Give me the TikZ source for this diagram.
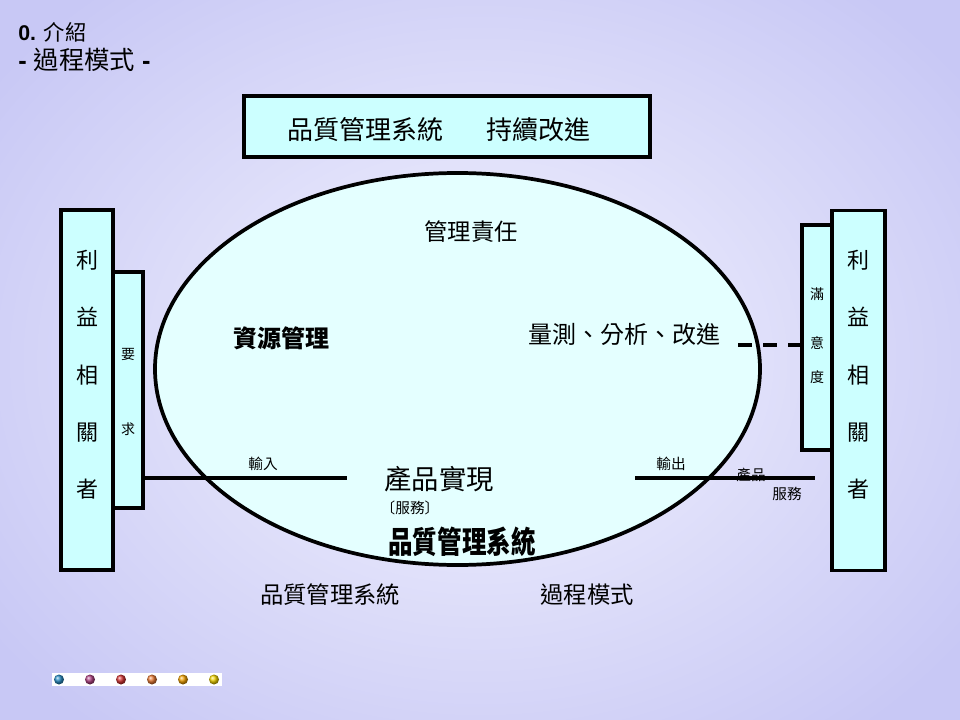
\documentclass[tikz,border=0pt]{standalone}
\usepackage{fontspec}
\setmainfont{Liberation Sans}
\newfontfamily\cjk{Noto Sans CJK TC}
\usetikzlibrary{shapes.geometric}

\definecolor{boxcyan}{RGB}{204,255,255}
\definecolor{ovalcyan}{RGB}{228,255,255}
\definecolor{bgin}{RGB}{244,244,254}
\definecolor{bgout}{RGB}{200,200,245}
\definecolor{dotA}{RGB}{40,140,195}
\definecolor{dotB}{RGB}{175,65,130}
\definecolor{dotC}{RGB}{210,50,50}
\definecolor{dotD}{RGB}{230,120,50}
\definecolor{dotE}{RGB}{240,160,0}
\definecolor{dotF}{RGB}{240,210,0}

\tikzset{
  pane/.style={draw=black, line width=2.8pt, fill=boxcyan, inner sep=0pt},
  oval/.style={ellipse, draw=black, line width=2.8pt, fill=ovalcyan, inner sep=0pt},
  wire/.style={draw=black, line width=2.6pt},
  zh/.style={font=\cjk, inner sep=0pt},
}

\begin{document}
\begin{tikzpicture}[x=0.75pt,y=0.75pt,yscale=-1,xscale=1]
\useasboundingbox (0,0) rectangle (960,720);

%Background
\shade[inner color=bgin, outer color=bgout] (-120,-120) rectangle (1080,840);

%Title
\node[anchor=west, inner sep=0pt, font=\fontsize{16}{18}\selectfont] (ttl) at (18,32) {\textbf{0.} {\cjk 介紹}};
\node[anchor=west, inner sep=0pt, font=\fontsize{19}{22}\selectfont] (subttl) at (18,60) {\textbf{-} {\cjk 過程模式} \textbf{-}};

%Shape: Rectangle (top)
\node[pane, minimum width=304.5pt, minimum height=45.75pt] (qms) at (447,126.5) {};
\node[zh, font=\cjk\fontsize{19.5}{22}\selectfont] (qmstxt) at (439,130) {品質管理系統\hspace{32pt}持續改進};

%Shape: Ellipse
\node[oval, minimum width=453.75pt, minimum height=294pt] (cycle) at (457.5,369) {};

%Shape: Rectangle (left)
\node[pane, minimum width=39pt, minimum height=270pt] (custL) at (87,390) {};
\node[pane, minimum width=22.5pt, minimum height=177pt] (req) at (128,390) {};

%Shape: Rectangle (right)
\node[pane, minimum width=39.75pt, minimum height=270pt] (custR) at (858.5,390.5) {};
\node[pane, minimum width=22.5pt, minimum height=168.75pt] (sat) at (817,337.5) {};

%Text in boxes
\node[zh, align=center, font=\cjk\fontsize{16.5}{43}\selectfont] (custLtxt) at (87,375) {利\\益\\相\\關\\者};
\node[zh, align=center, font=\cjk\fontsize{16.5}{43}\selectfont] (custRtxt) at (858,375) {利\\益\\相\\關\\者};
\node[zh, align=center, font=\cjk\fontsize{10.5}{56}\selectfont] (reqtxt) at (128,392) {要\\求};
\node[zh, align=center, font=\cjk\fontsize{10.5}{25.5}\selectfont] (sattxt) at (817,336) {滿\\[11.25pt]意\\度};

%Straight Lines
\coordinate (inend) at (347,478);
\coordinate (outbeg) at (635,478);
\coordinate (outend) at (815,478);
\coordinate (dashbeg) at (738,345);
\draw[wire] (req.east |- inend) -- (inend);
\draw[wire] (outbeg) -- (outend);
\draw[wire, dash pattern=on 10.5pt off 8.25pt] (dashbeg) -- (sat.west |- dashbeg);

%Text in ellipse
\node[zh, font=\cjk\fontsize{17.5}{20}\selectfont] (mgmt) at (471,232) {管理責任};
\node[zh, font=\cjk\bfseries\fontsize{18}{20}\selectfont] (res) at (281,338) {資源管理};
\node[zh, font=\cjk\fontsize{18}{20}\selectfont] (meas) at (624,334) {量測、分析、改進};
\node[zh, font=\cjk\fontsize{20.5}{22}\selectfont] (prod) at (439,479) {產品實現};
\node[zh, font=\cjk\fontsize{11}{13}\selectfont] (serv) at (410,508) {〔服務〕};
\node[zh, font=\cjk\bfseries\fontsize{23}{26}\selectfont, xscale=0.8] (qmsbig) at (462,542) {品質管理系統};

%Line labels
\node[zh, font=\cjk\fontsize{11}{13}\selectfont] (intxt) at (263,464) {輸入};
\node[zh, font=\cjk\fontsize{11}{13}\selectfont] (outtxt) at (671,464) {輸出};
\node[zh, font=\cjk\fontsize{11}{13}\selectfont] (prodtxt) at (751,475) {產品};
\node[zh, font=\cjk\fontsize{11}{13}\selectfont] (servtxt) at (787,494) {服務};

%Bottom captions
\node[zh, font=\cjk\fontsize{17.5}{20}\selectfont] (capA) at (330,595) {品質管理系統};
\node[zh, font=\cjk\fontsize{17.5}{20}\selectfont] (capB) at (587,595) {過程模式};

%Dots bar
\fill[white] (52,673) rectangle (222,686);
\foreach \c [count=\i from 0] in {dotA,dotB,dotC,dotD,dotE,dotF}
  \shade[ball color=\c] (59+\i*31,679.5) circle (5);

\end{tikzpicture}
\end{document}
